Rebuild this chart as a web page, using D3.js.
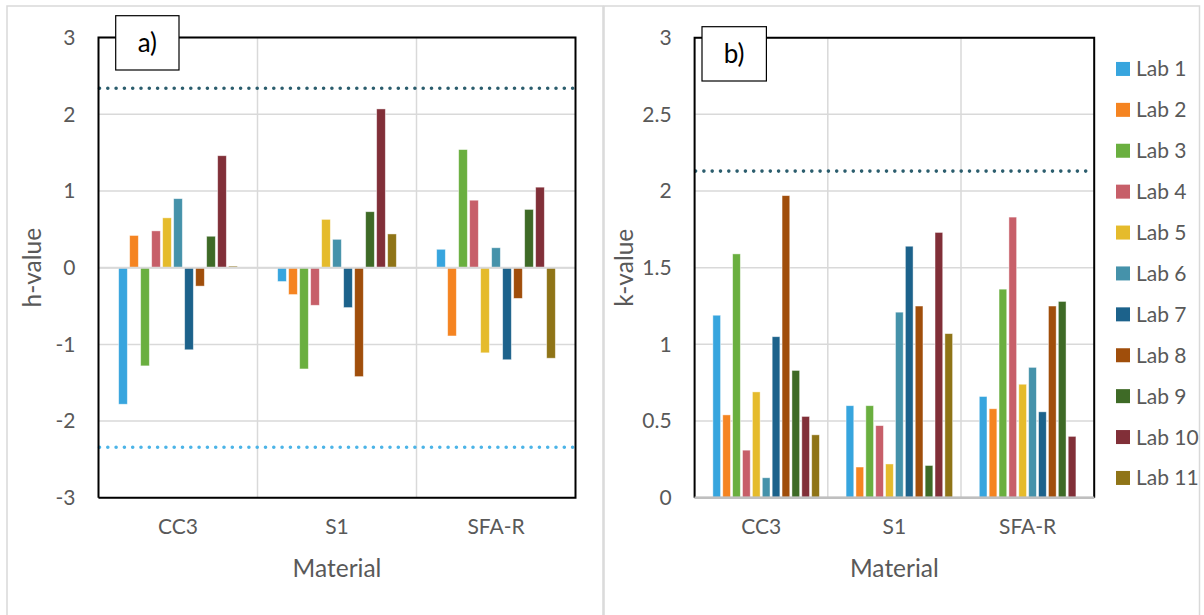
<!DOCTYPE html>
<html>
<head>
<meta charset="utf-8">
<script src="https://cdn.jsdelivr.net/npm/d3@7"></script>
<style>
  html, body { margin: 0; padding: 0; background: #fff; }
  svg { display: block; font-family: Lato, "Open Sans", sans-serif; }
</style>
</head>
<body>
<svg id="chart" width="1204" height="615"></svg>
<script>
// Materials, laboratories and Mandel h / k statistics
const materials = ["CC3", "S1", "SFA-R"];
const labs = ["Lab 1", "Lab 2", "Lab 3", "Lab 4", "Lab 5", "Lab 6",
              "Lab 7", "Lab 8", "Lab 9", "Lab 10", "Lab 11"];
const labColors = ["#37a5de", "#f58421", "#6aaf3f", "#c75f69", "#e5bb2c", "#4592aa",
                   "#1c628b", "#a04e0b", "#3e6a26", "#812f38", "#8f7417"];

// h-values per lab, one entry per material (CC3, S1, SFA-R)
const hLab1  = [-1.78, -0.18,  0.24];
const hLab2  = [ 0.42, -0.35, -0.89];
const hLab3  = [-1.28, -1.32,  1.54];
const hLab4  = [ 0.48, -0.49,  0.88];
const hLab5  = [ 0.65,  0.63, -1.11];
const hLab6  = [ 0.90,  0.37,  0.26];
const hLab7  = [-1.07, -0.52, -1.20];
const hLab8  = [-0.24, -1.42, -0.40];
const hLab9  = [ 0.41,  0.73,  0.76];
const hLab10 = [ 1.46,  2.07,  1.05];
const hLab11 = [ 0.02,  0.44, -1.18];

// k-values per lab (Lab 11 has no SFA-R result)
const kLab1  = [1.19, 0.60, 0.66];
const kLab2  = [0.54, 0.20, 0.58];
const kLab3  = [1.59, 0.60, 1.36];
const kLab4  = [0.31, 0.47, 1.83];
const kLab5  = [0.69, 0.22, 0.74];
const kLab6  = [0.13, 1.21, 0.85];
const kLab7  = [1.05, 1.64, 0.56];
const kLab8  = [1.97, 1.25, 1.25];
const kLab9  = [0.83, 0.21, 1.28];
const kLab10 = [0.53, 1.73, 0.40];
const kLab11 = [0.41, 1.07, null];

// Critical values (5 % level)
const hCritical = [2.34, -2.34];
const kCritical = [2.13];

const hTicks = [-3, -2, -1, 0, 1, 2, 3];
const kTicks = [0, 0.5, 1, 1.5, 2, 2.5, 3];

const hSeries = [hLab1, hLab2, hLab3, hLab4, hLab5, hLab6, hLab7, hLab8, hLab9, hLab10, hLab11];
const kSeries = [kLab1, kLab2, kLab3, kLab4, kLab5, kLab6, kLab7, kLab8, kLab9, kLab10, kLab11];

const svg = d3.select("#chart");
const textColor = "#595959";
const gridColor = "#d9d9d9";

// Panel frames
svg.append("rect").attr("x", 7).attr("y", 6).attr("width", 596).attr("height", 620)
  .attr("fill", "none").attr("stroke", gridColor).attr("stroke-width", 1.5);
svg.append("rect").attr("x", 604).attr("y", 6).attr("width", 595.5).attr("height", 620)
  .attr("fill", "none").attr("stroke", gridColor).attr("stroke-width", 1.5);

function drawPanel(opts) {
  const g = svg.append("g");
  const { x0, x1, y0, y1 } = opts.box;

  const y = d3.scaleLinear().domain(opts.yDomain).range([y1, y0]);
  const x = d3.scaleBand().domain(materials).range([x0, x1]).padding(0);

  // bar slots inside each category
  const slot = d3.scaleBand().domain(opts.slots)
    .range([opts.groupPad, x.bandwidth() - opts.groupPad]).padding(0);
  const barW = slot.bandwidth() * opts.barFrac;

  // horizontal gridlines
  g.append("g").selectAll("line").data(opts.ticks).join("line")
    .attr("x1", x0).attr("x2", x1)
    .attr("y1", d => y(d)).attr("y2", d => y(d))
    .attr("stroke", gridColor).attr("stroke-width", 1.5);

  // vertical category separators
  g.append("g").selectAll("line").data(materials.slice(1)).join("line")
    .attr("x1", d => x(d)).attr("x2", d => x(d))
    .attr("y1", y0).attr("y2", y1)
    .attr("stroke", gridColor).attr("stroke-width", 1.5);

  // bars
  labs.forEach((lab, i) => {
    const vals = opts.series[i];
    g.append("g").selectAll("rect")
      .data(materials.map((m, j) => ({ m, v: vals[j] })).filter(d => d.v !== null))
      .join("rect")
      .attr("x", d => x(d.m) + slot(lab) + (slot.bandwidth() - barW) / 2)
      .attr("width", barW)
      .attr("y", d => y(Math.max(0, d.v)))
      .attr("height", d => Math.abs(y(d.v) - y(0)))
      .attr("fill", labColors[i])
      .attr("stroke", "#ffffff").attr("stroke-opacity", 0.55).attr("stroke-width", 0.8);
  });

  // zero line
  g.append("line").attr("x1", x0).attr("x2", x1)
    .attr("y1", y(0)).attr("y2", y(0))
    .attr("stroke", opts.zeroColor).attr("stroke-width", 2);

  // critical value lines
  opts.critical.forEach((c, i) => {
    g.append("line").attr("x1", x0 + 1).attr("x2", x1 - 1)
      .attr("y1", y(c)).attr("y2", y(c))
      .attr("stroke", opts.criticalColors[i]).attr("stroke-width", 3.6)
      .attr("stroke-linecap", "round").attr("stroke-dasharray", "0 8.3");
  });

  // plot border
  g.append("path")
    .attr("d", `M${x0},${y1}V${y0}H${x1}V${y1}` + (opts.closeBottom ? `H${x0}` : ""))
    .attr("fill", "none").attr("stroke", "#000").attr("stroke-width", 2);
  if (!opts.closeBottom) {
    g.append("line").attr("x1", x0).attr("x2", x1).attr("y1", y1).attr("y2", y1)
      .attr("stroke", "#bfbfbf").attr("stroke-width", 2.5);
  }

  // y axis labels
  const yAxis = d3.axisLeft(y).tickValues(opts.ticks).tickSize(0).tickPadding(opts.tickPad)
    .tickFormat(d => String(d));
  const ya = g.append("g").attr("transform", `translate(${x0},0)`).call(yAxis);
  ya.select(".domain").remove();
  ya.selectAll("text").attr("fill", textColor).attr("font-size", 21)
    .attr("font-family", "Lato, sans-serif");

  // x axis labels
  const xAxis = d3.axisBottom(x).tickSize(0).tickPadding(21);
  const xa = g.append("g").attr("transform", `translate(0,${y1})`).call(xAxis);
  xa.select(".domain").remove();
  xa.selectAll("text").attr("fill", textColor).attr("font-size", 21)
    .attr("font-family", "Lato, sans-serif");

  // axis titles
  g.append("text").attr("x", (x0 + x1) / 2).attr("y", 577)
    .attr("text-anchor", "middle").attr("fill", textColor).attr("font-size", 24.5)
    .text("Material");
  g.append("text")
    .attr("transform", `translate(${opts.yTitleX},${(y0 + y1) / 2}) rotate(-90)`)
    .attr("text-anchor", "middle").attr("fill", textColor).attr("font-size", 24.5)
    .text(opts.yTitle);

  // panel tag
  const t = opts.tag;
  g.append("rect").attr("x", t.x).attr("y", t.y).attr("width", t.w).attr("height", t.h)
    .attr("fill", "#fff").attr("stroke", "#000").attr("stroke-width", 1.2);
  g.append("text").attr("x", t.x + t.w / 2).attr("y", t.y + t.h / 2 + 9)
    .attr("text-anchor", "middle").attr("fill", "#000").attr("font-size", 26)
    .text(t.label);
}

drawPanel({
  box: { x0: 98.5, x1: 575.5, y0: 37.6, y1: 497.8 },
  yDomain: [-3, 3], ticks: hTicks, series: hSeries,
  slots: labs, groupPad: 19, barFrac: 0.79,
  critical: hCritical, criticalColors: ["#2b5d6d", "#4cb4e7"],
  zeroColor: gridColor, closeBottom: true, tickPad: 23,
  yTitle: "h-value", yTitleX: 41,
  tag: { x: 115.7, y: 15.7, w: 63.3, h: 54.3, label: "a)" }
});

// the k chart reserves an empty first slot in every category
drawPanel({
  box: { x0: 694.6, x1: 1094.2, y0: 37.7, y1: 497.7 },
  yDomain: [0, 3], ticks: kTicks, series: kSeries,
  slots: ["", ...labs], groupPad: 7.3, barFrac: 0.78,
  critical: kCritical, criticalColors: ["#2b5d6d"],
  zeroColor: "#bfbfbf", closeBottom: false, tickPad: 23,
  yTitle: "k-value", yTitleX: 633,
  tag: { x: 702, y: 26.7, w: 64.4, h: 54.3, label: "b)" }
});

// legend
const legend = svg.append("g");
const legendY = d3.scaleBand().domain(labs).range([48.5, 48.5 + 40.9 * labs.length]);
labs.forEach((lab, i) => {
  const yy = legendY(lab) + legendY.bandwidth() / 2;
  legend.append("rect").attr("x", 1116).attr("y", yy - 7).attr("width", 14).attr("height", 14)
    .attr("fill", labColors[i]);
  legend.append("text").attr("x", 1136).attr("y", yy + 7.5)
    .attr("fill", textColor).attr("font-size", 21).text(lab);
});
</script>
</body>
</html>
